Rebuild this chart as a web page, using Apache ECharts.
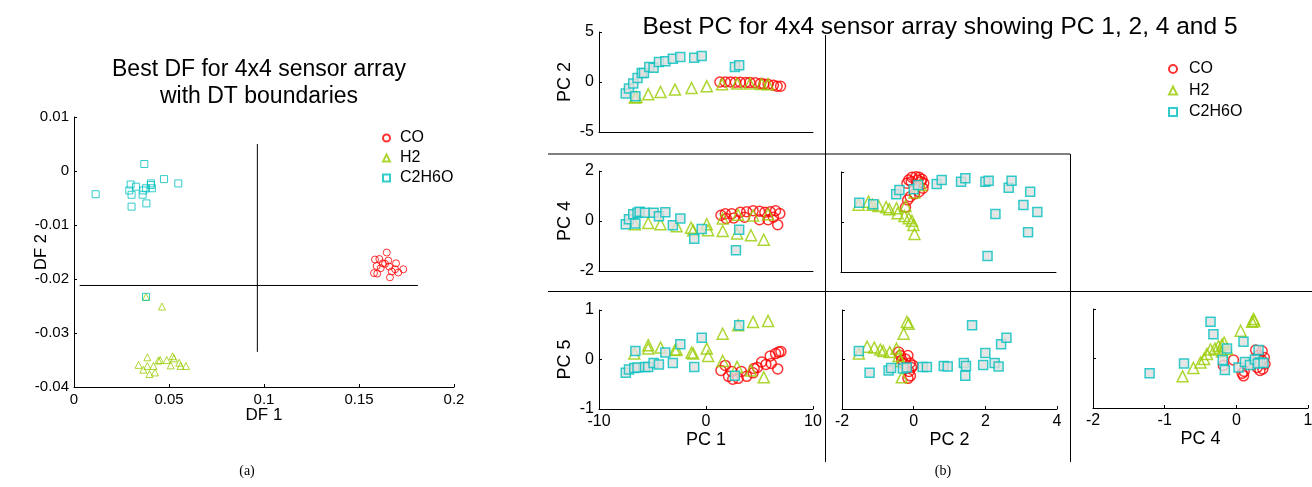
<!DOCTYPE html>
<html lang="en">
<head>
  <meta charset="UTF-8">
  <title>DF and PC scatter plots</title>
</head>
<body style="margin:0;background:#fff">
  <div id="main" style="width:1312px;height:487px;"></div>
  <script src="https://cdn.jsdelivr.net/npm/echarts@6/dist/echarts.min.js"></script>
  <script>
  var gasNames = ['CO', 'H2', 'C2H6O']
  var gasColors = ['#ff0000', '#99cc00', '#00bfbf']
  var gasSymbols = ['circle', 'triangle', 'rect']

  // (a) discriminant functions
  var dfCO = [[0.1646,-0.0151],[0.1584,-0.0164],[0.1607,-0.0163],[0.1625,-0.0171],[0.1654,-0.0166],[0.1695,-0.0171],[0.1593,-0.0176],[0.1614,-0.0180],[0.1659,-0.0177],[0.1690,-0.0182],[0.1733,-0.0182],[0.1707,-0.0188],[0.1672,-0.0186],[0.1579,-0.0189],[0.1596,-0.0190],[0.1663,-0.0197],[0.1637,-0.0172]]
  var dfH2 = [[0.0379,-0.0233],[0.0463,-0.0251],[0.0340,-0.0359],[0.0386,-0.0345],[0.0386,-0.0361],[0.0365,-0.0368],[0.0397,-0.0376],[0.0426,-0.0373],[0.0418,-0.0361],[0.0444,-0.0351],[0.0453,-0.0350],[0.0488,-0.0350],[0.0519,-0.0343],[0.0526,-0.0347],[0.0509,-0.0360],[0.0554,-0.0355],[0.0561,-0.0361],[0.0589,-0.0361]]
  var dfC2H6O = [[0.0114,-0.0043],[0.0370,0.0013],[0.0298,-0.0025],[0.0326,-0.0029],[0.0291,-0.0036],[0.0303,-0.0044],[0.0303,-0.0066],[0.0361,-0.0044],[0.0365,-0.0036],[0.0379,-0.0032],[0.0381,-0.0060],[0.0405,-0.0023],[0.0410,-0.0032],[0.0404,-0.0026],[0.0474,-0.0015],[0.0549,-0.0023],[0.0379,-0.0233]]
  // decision tree boundaries
  var dtHorizontal = [[0.003,-0.0212],[0.181,-0.0212]]
  var dtVertical = [[0.0965,0.005],[0.0965,-0.0335]]

  // (b) principal components
  var pc12CO = [[1.3,0],[1.8,0],[2.3,0],[2.75,-0.02],[3.2,-0.02],[3.7,-0.05],[4.1,-0.05],[4.6,-0.08],[5.1,-0.16],[5.4,-0.2],[5.8,-0.23],[6.3,-0.33],[6.65,-0.43],[6.97,-0.43]]
  var pc12H2 = [[-6.65,-1.56],[-6.5,-1.5],[-5.4,-1.23],[-4.25,-1.0],[-2.9,-0.76],[-1.35,-0.6],[0.07,-0.43],[1.5,-0.23],[2.9,-0.16],[4.1,-0.16],[5.2,-0.2],[5.8,-0.23]]
  var pc12C2H6O = [[-7.5,-1.16],[-7.2,-0.66],[-6.8,-0.16],[-6.6,-1.43],[-6.4,0.4],[-6.0,0.9],[-5.8,0.9],[-5.3,1.5],[-4.9,1.43],[-4.4,2.0],[-3.8,2.07],[-3.1,2.33],[-2.4,2.5],[-1.1,2.43],[-0.4,2.6],[2.7,1.5],[3.1,1.67]]

  var pc14CO = [[1.4,0.23],[1.8,0.29],[1.9,0.1],[2.4,0.29],[2.6,0.12],[3.2,0.35],[3.6,0.15],[3.8,0.37],[4.4,0.41],[5.0,0.39],[5.0,0.05],[5.5,0.35],[5.8,0.05],[6.0,0.37],[6.3,0.15],[6.5,0.41],[6.9,0.3],[6.7,-0.15]]
  var pc14H2 = [[-6.65,-0.13],[-5.4,-0.08],[-4.25,-0.13],[-2.75,-0.21],[-1.4,-0.27],[-1.2,-0.37],[0.07,-0.13],[0.2,-0.37],[1.56,-0.4],[1.56,0.1],[2.9,-0.5],[3.0,0.25],[4.2,-0.57],[4.4,0.22],[5.4,-0.75],[5.8,0.27]]
  var pc14C2H6O = [[-7.5,-0.13],[-7.2,0.07],[-6.8,0.27],[-6.6,-0.1],[-6.4,0.33],[-6.2,0.37],[-5.7,0.33],[-4.9,0.33],[-4.4,0.19],[-3.8,0.35],[-3.1,-0.17],[-2.4,0.1],[-1.1,-0.71],[-0.4,-0.32],[2.8,-1.17],[3.1,-0.35]]

  var pc24CO = [[-0.11,1.68],[-0.02,1.79],[0.09,1.81],[0.18,1.79],[0.26,1.71],[0.31,1.55],[0.29,1.35],[0.18,1.21],[0.05,1.12],[-0.07,1.01],[-0.14,0.88],[-0.2,0.59],[-0.16,1.55],[-0.04,1.61],[0.23,1.61],[0.14,1.68]]
  var pc24H2 = [[-1.51,0.69],[-1.23,0.81],[-1.12,0.69],[-0.95,0.64],[-0.74,0.59],[-0.65,0.51],[-0.45,0.55],[-0.42,0.35],[-0.23,0.24],[-0.11,0.15],[-0.02,0.05],[0.02,-0.12],[0.05,-0.48],[-0.2,0.64],[0.23,1.48],[0.05,1.18]]
  var pc24C2H6O = [[-1.49,0.77],[-1.1,0.71],[-0.46,1.11],[-0.37,1.28],[0.03,1.31],[0.15,1.48],[0.67,1.52],[0.81,1.68],[1.35,1.61],[1.47,1.75],[2.03,1.61],[2.12,1.65],[2.68,1.37],[2.76,1.65],[3.28,1.21],[3.09,0.68],[3.48,0.4],[2.31,0.32],[3.22,-0.41],[2.09,-1.36]]

  var pc15CO = [[1.4,-0.22],[1.8,-0.12],[2.1,-0.34],[2.4,-0.24],[2.5,-0.4],[3.0,-0.38],[3.3,-0.24],[3.8,-0.34],[4.4,-0.27],[4.5,-0.18],[4.8,-0.16],[5.2,-0.05],[5.6,-0.1],[6.0,0.07],[6.1,-0.08],[6.5,0.12],[6.7,-0.19],[6.8,0.15],[7.0,0.16]]
  var pc15H2 = [[-6.7,0.12],[-5.4,0.29],[-5.4,0.22],[-4.25,0.24],[-2.9,0.19],[-2.75,0.2],[-1.35,0.14],[-1.2,0.12],[0.07,0.22],[0.2,0.07],[1.56,0.52],[1.56,-0.03],[2.9,-0.15],[3.0,0.69],[4.2,-0.22],[4.4,0.76],[5.4,-0.36],[5.8,0.78]]
  var pc15C2H6O = [[-7.5,-0.27],[-7.2,-0.2],[-6.7,-0.17],[-6.6,0.17],[-6.4,-0.16],[-5.7,-0.15],[-5.4,-0.15],[-4.9,-0.07],[-4.4,-0.1],[-3.8,0.14],[-3.1,-0.07],[-2.4,0.31],[-1.1,-0.15],[-0.4,0.44],[2.7,-0.33],[3.1,0.69]]

  var pc25CO = [[-0.42,0.15],[-0.37,0.08],[-0.23,0.01],[-0.1,-0.07],[-0.06,-0.16],[-0.13,-0.24],[-0.09,-0.33],[-0.16,-0.38],[-0.02,-0.12],[-0.33,-0.01],[-0.2,-0.16],[-0.28,-0.08],[-0.16,0.08]]
  var pc25H2 = [[-1.53,0.12],[-1.3,0.26],[-1.1,0.24],[-0.93,0.2],[-0.85,0.17],[-0.67,0.15],[-0.48,0.22],[-0.42,0.07],[-0.37,-0.03],[-0.28,0.52],[-0.19,0.76],[-0.14,0.72],[-0.33,-0.36]]
  var pc25C2H6O = [[-1.53,0.17],[-1.23,-0.27],[-0.7,-0.22],[-0.63,-0.17],[-0.3,-0.18],[-0.19,-0.16],[0.25,-0.15],[0.37,-0.15],[0.84,-0.13],[0.95,-0.14],[1.4,-0.07],[1.46,-0.13],[1.44,-0.33],[1.63,0.69],[1.94,-0.11],[2.0,0.13],[2.26,-0.07],[2.37,-0.14],[2.44,0.31],[2.59,0.44]]

  var pc45CO = [[-0.04,-0.03],[-0.18,-0.14],[0.08,-0.3],[0.1,-0.35],[0.11,-0.26],[0.27,0.17],[0.36,0.15],[0.39,0.02],[0.4,-0.11],[0.37,-0.21],[0.33,-0.24],[0.29,-0.18],[0.36,-0.04],[0.31,0.06]]
  var pc45H2 = [[-0.75,-0.36],[-0.6,-0.19],[-0.5,-0.08],[-0.45,-0.01],[-0.41,0.09],[-0.36,0.18],[-0.3,0.2],[-0.25,0.25],[-0.2,0.28],[-0.17,0.32],[-0.2,0.14],[0.06,0.56],[0.22,0.74],[0.24,0.8],[0.25,0.76],[-0.13,0.19]]
  var pc45C2H6O = [[-1.21,-0.3],[-0.73,-0.1],[-0.36,0.74],[-0.32,0.49],[-0.19,-0.03],[-0.16,-0.23],[-0.13,0.2],[0.1,0.34],[0.03,-0.18],[0.12,-0.07],[0.19,-0.13],[0.26,-0.02],[0.31,0.17],[0.33,-0.08],[0.3,-0.1],[0.38,-0.09]]

  var font = 'Liberation Sans, Arial, Helvetica, sans-serif'

  // axis ranges
  var pc1Axis = {min: -10, max: 10, interval: 10}
  var pc2Axis = {min: -2, max: 4, interval: 2}
  var pc4xAxis = {min: -2, max: 1, interval: 1}
  var pc2yAxis = {min: -5, max: 5, interval: 5}
  var pc4yAxis = {min: -2, max: 2, interval: 2}
  var pc5yAxis = {min: -1, max: 1, interval: 1}

  var panels = [
    {grid: [74, 117, 380, 270], small: true, data: [dfCO, dfH2, dfC2H6O],
     x: {min: 0, max: 0.2, interval: 0.05, labels: true, ticks: true, name: 'DF 1', gap: 20, size: 17},
     y: {min: -0.04, max: 0.01, interval: 0.01, labels: true, ticks: true, name: 'DF 2', gap: 24, size: 16.5}},
    {grid: [599, 32, 214, 100], data: [pc12CO, pc12H2, pc12C2H6O],
     x: Object.assign({}, pc1Axis),
     y: Object.assign({labels: true, ticks: true, name: 'PC 2', gap: 25, size: 18}, pc2yAxis)},
    {grid: [599, 171, 214, 100], data: [pc14CO, pc14H2, pc14C2H6O],
     x: Object.assign({}, pc1Axis),
     y: Object.assign({labels: true, ticks: true, name: 'PC 4', gap: 25, size: 18}, pc4yAxis)},
    {grid: [841, 172, 215, 100], data: [pc24CO, pc24H2, pc24C2H6O],
     x: Object.assign({}, pc2Axis),
     y: Object.assign({ticks: true}, pc4yAxis)},
    {grid: [599, 310, 214, 99], data: [pc15CO, pc15H2, pc15C2H6O],
     x: Object.assign({labels: true, ticks: true, name: 'PC 1', gap: 22, size: 18}, pc1Axis),
     y: Object.assign({labels: true, ticks: true, name: 'PC 5', gap: 25, size: 18}, pc5yAxis)},
    {grid: [842, 310, 215, 99], data: [pc25CO, pc25H2, pc25C2H6O],
     x: Object.assign({labels: true, ticks: true, name: 'PC 2', gap: 22, size: 18}, pc2Axis),
     y: Object.assign({ticks: true}, pc5yAxis)},
    {grid: [1093, 309, 215, 99], data: [pc45CO, pc45H2, pc45C2H6O],
     x: Object.assign({labels: true, ticks: true, name: 'PC 4', gap: 22, size: 18}, pc4xAxis),
     y: Object.assign({ticks: true}, pc5yAxis)}
  ]

  function makeAxis(o, i, isX, small) {
    return {
      type: 'value', gridIndex: i,
      min: o.min, max: o.max, interval: o.interval,
      name: o.name || '', nameLocation: 'middle', nameGap: o.gap || 0,
      nameRotate: isX ? 0 : 90, nameMoveOverlap: false,
      nameTextStyle: {fontFamily: font, fontSize: o.size || 18, color: '#000'},
      axisLine: {show: true, onZero: false, lineStyle: {color: '#000', width: 1}},
      axisTick: {show: !!o.ticks, inside: true, length: 3, lineStyle: {color: '#000'}},
      axisLabel: {show: !!o.labels, margin: 5, fontFamily: font, fontSize: small ? 15 : 16, color: '#000'},
      splitLine: {show: false}
    }
  }

  var grids = [], xAxes = [], yAxes = [], series = []
  panels.forEach(function (p, i) {
    grids.push({left: p.grid[0], top: p.grid[1], width: p.grid[2], height: p.grid[3],
      containLabel: false, outerBoundsMode: 'none'})
    xAxes.push(makeAxis(p.x, i, true, p.small))
    yAxes.push(makeAxis(p.y, i, false, p.small))
    p.data.forEach(function (d, k) {
      var fill = 'rgba(255,255,255,0)'
      if (!p.small && k === 2) fill = '#dedede'
      series.push({
        type: 'scatter', name: gasNames[k], xAxisIndex: i, yAxisIndex: i,
        symbol: gasSymbols[k],
        symbolSize: p.small ? 7 : [10, 11, 9][k],
        itemStyle: {color: fill, borderColor: gasColors[k], borderWidth: p.small ? 1 : 1.5},
        data: d
      })
    })
  })

  // DT boundaries on the DF plot
  ;[dtHorizontal, dtVertical].forEach(function (d) {
    series.push({type: 'line', xAxisIndex: 0, yAxisIndex: 0, data: d, symbol: 'none',
      lineStyle: {color: '#000', width: 1}, silent: true})
  })

  function txt(x, y, s, size, family) {
    return {type: 'text', x: x, y: y, silent: true,
      style: {text: s, fontSize: size, fontFamily: family || font, fill: '#000', align: 'center', verticalAlign: 'middle'}}
  }
  function ln(x1, y1, x2, y2) {
    return {type: 'line', silent: true, shape: {x1: x1, y1: y1, x2: x2, y2: y2},
      style: {stroke: '#000', lineWidth: 1}}
  }

  var myChart = echarts.init(document.getElementById('main'))
  var option = {
    animation: false,
    backgroundColor: '#fff',
    grid: grids,
    xAxis: xAxes,
    yAxis: yAxes,
    legend: [
      {data: gasNames, orient: 'vertical', left: 377, top: 125, itemWidth: 7, itemHeight: 7, itemGap: 4,
        textStyle: {fontFamily: font, fontSize: 16, lineHeight: 16, color: '#000', padding: [0, 0, 0, 5]}},
      {data: gasNames, orient: 'vertical', left: 1163, top: 56, itemWidth: 8, itemHeight: 8, itemGap: 5.5,
        textStyle: {fontFamily: font, fontSize: 16, lineHeight: 16, color: '#000', padding: [0, 0, 0, 7]}}
    ],
    graphic: [
      txt(259, 70, 'Best DF for 4x4 sensor array', 23),
      txt(259, 97, 'with DT boundaries', 23),
      txt(940, 27, 'Best PC for 4x4 sensor array showing PC 1, 2, 4 and 5', 24.5),
      txt(247, 471, '(a)', 14, 'Liberation Serif, Times New Roman, serif'),
      txt(943, 471, '(b)', 14, 'Liberation Serif, Times New Roman, serif'),
      ln(548, 154, 1070, 154),
      ln(548, 291.5, 1312, 291.5),
      ln(825.5, 35, 825.5, 462),
      ln(1070.5, 154, 1070.5, 462)
    ],
    series: series
  }
  myChart.setOption(option)
  </script>
</body>
</html>
